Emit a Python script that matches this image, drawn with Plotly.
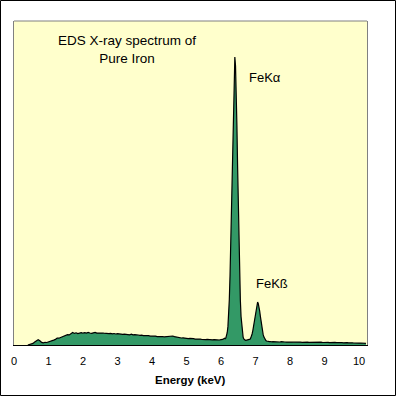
import plotly.graph_objects as go

# Segment A: 0.40 - 6.10 keV, 0.05 keV channels (relative intensity)
start_a, step_a = 0.40, 0.05
counts_a = [
    0.0, 0.4, 0.9, 1.6, 3.0, 4.6, 5.3, 4.2, 2.6, 2.1,      # 0.40-0.85
    2.7, 2.5, 3.3, 3.6, 4.4, 4.9, 5.6, 6.9, 6.8, 7.6,      # 0.90-1.35
    8.3, 8.6, 9.4, 10.3, 10.1, 11.0, 12.6, 11.6, 12.2, 11.5,  # 1.40-1.85
    12.1, 12.4, 11.8, 12.3, 11.9, 12.5, 12.0, 11.7, 12.2, 12.6,  # 1.90-2.35
    11.9, 12.1, 11.6, 12.0, 11.8, 11.5, 11.9, 11.4, 11.7, 11.2,  # 2.40-2.85
    11.5, 11.0, 11.3, 10.9, 11.2, 10.7, 10.9, 10.5, 10.6, 10.2,  # 2.90-3.35
    10.8, 10.1, 10.3, 9.8, 10.0, 9.6, 9.9, 9.4, 9.6, 9.1,  # 3.40-3.85
    9.3, 8.8, 9.0, 8.7, 8.9, 8.4, 8.6, 8.3, 8.5, 8.1,      # 3.90-4.35
    8.3, 8.0, 8.4, 8.7, 9.0, 8.4, 7.9, 7.5, 7.6, 7.0,      # 4.40-4.85
    7.2, 6.8, 6.9, 6.4, 6.6, 6.1, 6.3, 5.9, 6.0, 5.7,      # 4.90-5.35
    5.9, 5.5, 5.8, 5.4, 5.6, 5.3, 5.5, 5.2, 5.4, 5.1,      # 5.40-5.85
    5.3, 5.0, 5.4, 5.6, 6.8,                               # 5.90-6.10
]

# Segment B: 6.12 - 7.50 keV, 0.02 keV channels (Fe K-alpha / K-beta)
start_b, step_b = 6.12, 0.02
counts_b = [
    6.3, 7.1, 8.9, 12.5, 18.6, 29.3, 45.5, 68.9, 99.7, 137.0,   # 6.12-6.30
    179.0, 220.0, 255.5, 279.5, 288.0, 279.0, 255.0, 219.5, 178.5, 136.5,  # 6.32-6.50
    99.0, 68.2, 44.7, 28.5, 17.8, 11.5, 7.9, 6.0, 5.1, 4.9,   # 6.52-6.70
    4.7, 4.9, 4.6, 4.7, 4.8, 5.2, 5.8, 6.9, 8.5, 11.0,        # 6.72-6.90
    14.2, 18.4, 23.4, 28.8, 34.0, 38.4, 41.4, 43.0, 41.3, 38.3,  # 6.92-7.10
    33.9, 28.7, 23.3, 18.2, 14.0, 10.6, 8.2, 6.5, 5.4, 4.5,   # 7.12-7.30
    4.0, 3.7, 3.5, 3.6, 3.3, 3.5, 3.2, 3.4, 3.1, 3.3,         # 7.32-7.50
]

# Segment C: 7.55 - 10.20 keV, 0.05 keV channels
start_c, step_c = 7.55, 0.05
counts_c = [
    3.1, 3.2, 2.9, 3.0, 3.3, 2.8, 3.0, 2.9, 3.1, 2.7,
    2.9, 2.8, 3.0, 2.6, 2.8, 2.9, 2.6, 2.8, 2.7, 2.9,
    2.6, 2.7, 2.9, 2.5, 2.7, 3.0, 2.6, 2.8, 2.5, 2.7,
    2.9, 2.6, 2.4, 2.7, 2.5, 2.6, 2.3, 2.5, 2.7, 2.4,
    2.2, 2.5, 2.3, 2.1, 2.4, 2.2, 2.0, 2.2, 2.1, 1.9,
    2.0, 1.8, 1.9, 1.7,
]

tick_vals = [0, 1, 2, 3, 4, 5, 6, 7, 8, 9, 10]
tick_text = ["0", "1", "2", "3", "4", "5", "6", "7", "8", "9", "10"]

energy = ([round(start_a + step_a * i, 3) for i in range(len(counts_a))]
          + [round(start_b + step_b * i, 3) for i in range(len(counts_b))]
          + [round(start_c + step_c * i, 3) for i in range(len(counts_c))])
counts = counts_a + counts_b + counts_c

FONT = "Liberation Sans, Arial, sans-serif"

fig = go.Figure()
fig.add_trace(go.Scatter(
    x=energy, y=counts, mode="lines",
    line=dict(color="black", width=1.2),
    fill="tozeroy", fillcolor="#339966",
    hoverinfo="skip", showlegend=False,
))

fig.update_layout(
    width=396, height=396,
    margin=dict(l=14, r=29, t=21, b=51),
    paper_bgcolor="white", plot_bgcolor="#FFFFCC",
    showlegend=False,
    font=dict(family=FONT, color="black"),
    xaxis=dict(
        range=[0, 10.23], tickvals=tick_vals, ticktext=tick_text,
        showgrid=False, zeroline=False,
        showline=True, linecolor="black", linewidth=1,
        ticks="outside", ticklen=6, tickcolor="rgba(0,0,0,0)",
        tickfont=dict(size=11, family=FONT, color="black"),
        fixedrange=True,
    ),
    yaxis=dict(
        range=[0, 324], showticklabels=False, showgrid=False, zeroline=False,
        showline=True, linecolor="#808080", linewidth=1, mirror=True,
        ticks="", fixedrange=True,
    ),
    shapes=[
        dict(type="line", xref="paper", yref="paper", x0=0, x1=1, y0=1, y1=1,
             line=dict(color="#808080", width=1)),
        dict(type="rect", xref="paper", yref="paper",
             x0=(0.5 - 14) / 353, x1=(395.5 - 14) / 353,
             y0=(345 - 395.5) / 324, y1=(345 - 0.5) / 324,
             line=dict(color="black", width=1), fillcolor="rgba(0,0,0,0)"),
    ],
    annotations=[
        dict(x=3.275, y=296, xref="x", yref="y", showarrow=False,
             text="EDS X-ray spectrum of<br>Pure Iron", align="center",
             xanchor="center", yanchor="middle",
             font=dict(size=13.5, family=FONT, color="black")),
        dict(x=7.28, y=268, xref="x", yref="y", showarrow=False,
             xanchor="center", yanchor="middle",
             text="FeKα", font=dict(size=13, family=FONT, color="black")),
        dict(x=7.48, y=62, xref="x", yref="y", showarrow=False,
             xanchor="center", yanchor="middle",
             text="FeKß", font=dict(size=13, family=FONT, color="black")),
        dict(x=(190 - 14) / 353, y=(345 - 380) / 324, xref="paper", yref="paper",
             xanchor="center", yanchor="middle",
             showarrow=False, text="<b>Energy (keV)</b>",
             font=dict(size=11.5, family=FONT, color="black")),
    ],
)

fig.write_html(
    "out.html",
    config={"displayModeBar": False},
    post_script="document.body.style.margin='0px';document.body.style.overflow='hidden';",
)
